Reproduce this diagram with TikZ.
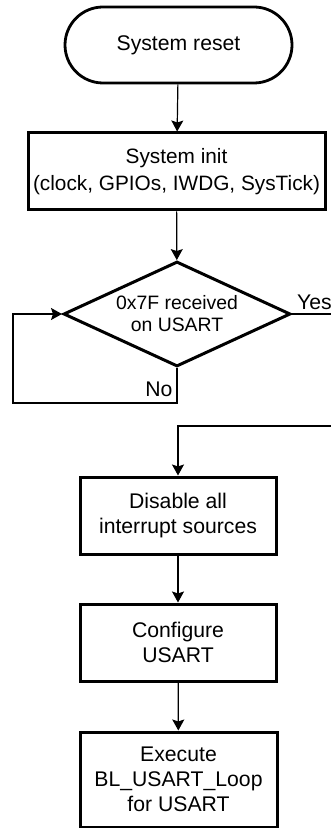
\documentclass[tikz,border=0pt]{standalone}
\usepackage{fontspec}
\setmainfont{Liberation Sans}
\usetikzlibrary{arrows.meta,shapes.geometric,shapes.misc}

\begin{document}
\begin{tikzpicture}[x=0.5pt,y=-0.5pt,
line width=0.6pt,
>={Stealth[length=5.5pt,width=6pt,inset=1pt]},
box/.style={rectangle,draw,line width=1.5pt,align=center,inner sep=0pt,
  font=\fontsize{10.6}{12.5}\selectfont},
term/.style={rounded rectangle,draw,line width=1.4pt,inner sep=0pt,
  font=\fontsize{10.6}{12.5}\selectfont},
test/.style={diamond,draw,line width=1.5pt,align=center,aspect=2.16,inner sep=0pt,
  font=\fontsize{9.7}{11}\selectfont},
lbl/.style={inner sep=2pt,font=\fontsize{10.6}{12.5}\selectfont}]
\useasboundingbox (0,0) rectangle (331,828);

\node (reset) at (178.5,45) [term,minimum width=113.5pt,minimum height=38pt] {System reset};
\node (init) at (176.5,171.5) [box,minimum width=148.5pt,minimum height=38.5pt,
  font=\fontsize{10.4}{13.5}\selectfont] {System init\\(clock, GPIOs, IWDG, SysTick)};
\node (rx) at (177,314) [test,minimum width=113.5pt,minimum height=52.5pt] {0x7F received\\on USART};
\node (dis) at (178,515.5) [box,minimum width=98pt,minimum height=38.5pt] {Disable all\\interrupt sources};
\node (cfg) at (178,642.5) [box,minimum width=98pt,minimum height=38.5pt] {Configure\\USART};
\node (exe) at (178.5,779.5) [box,minimum width=98.5pt,minimum height=47.5pt] {Execute\\BL\_USART\_Loop\\for USART};

% loop back and jump to the bootloader
\coordinate (nocorner) at (13,403);
\coordinate (yesout) at (337,314);
\coordinate (yesback) at (337,426);

\draw[->] (reset) -- (init);
\draw[->] (init) -- (rx);
\draw[->] (rx.south) |- node[lbl,pos=0.3,anchor=east] {No} (nocorner) |- (rx.west);
\draw[->] (rx.east) -- node[lbl,above] {Yes} (yesout) -- (yesback) -| (dis.north);
\draw[->] (dis) -- (cfg);
\draw[->] (cfg) -- (exe);

\end{tikzpicture}
\end{document}
